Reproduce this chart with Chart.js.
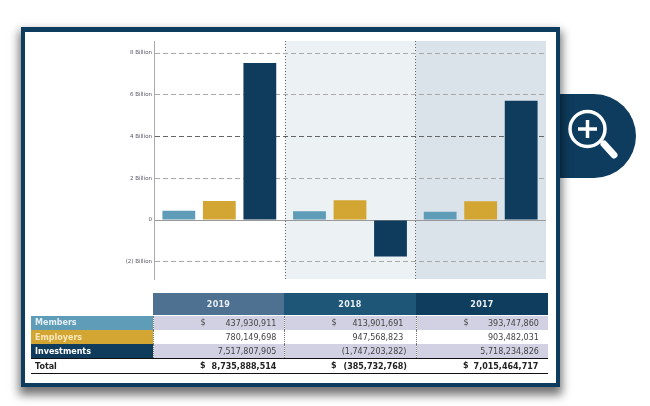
<!DOCTYPE html>
<html>
<head>
<meta charset="utf-8">
<script src="https://cdn.jsdelivr.net/npm/chart.js@4"></script>
<style>
html, body { margin: 0; padding: 0; background: #fff; }
#page { position: relative; width: 650px; height: 406px; overflow: hidden; font-family: "DejaVu Sans", sans-serif; }
#tab { position: absolute; left: 540px; top: 94px; width: 96px; height: 84px; background: #0e3c5e; border-radius: 0 42px 42px 0; }
#icon { position: absolute; left: 560px; top: 100px; }
#frame { position: absolute; left: 21px; top: 27px; width: 531px; height: 351px; background: #fff; border: 4px solid #0e3c5e; border-top-width: 5px; box-shadow: 0 6px 9px 2px rgba(0,0,0,.55); }
#chart { position: absolute; left: 0; top: 0; }
#tbl { position: absolute; left: 31px; top: 293px; width: 517px; border-collapse: collapse; table-layout: fixed; font-size: 8px; color: #444; }
#tbl td, #tbl th { padding: 0; white-space: nowrap; position: relative; }
#tbl th { height: 22px; color: #e8eef3; font-weight: bold; font-size: 8px; letter-spacing: .3px; border-bottom: 1px solid #fff; }
#tbl tr.row td { height: 14px; }
#tbl tr.row td.label { font-weight: bold; padding-left: 4px; }
#tbl tr.row td.num { text-align: right; border-left: 1px dotted #777; }
#tbl tr.shade td.num { background: #d1d1e3; }
#tbl tr.total td { height: 14px; font-weight: bold; color: #222; border-top: 1px solid #111; border-bottom: 1px solid #111; }
#tbl tr.total td.label { padding-left: 4px; }
#tbl tr.total td.num { text-align: right; }
.dollar { position: absolute; left: 47px; top: 2px; }
.pad { visibility: hidden; }
</style>
</head>
<body>
<div id="page">
  <div id="tab"></div>
  <svg id="icon" width="70" height="70" viewBox="0 0 70 70">
    <circle cx="27.5" cy="29" r="17.5" fill="none" stroke="#fff" stroke-width="3.5"/>
    <path d="M18 29H37M27.5 20V38" stroke="#fff" stroke-width="3.5"/>
    <path d="M44 44L54 55" stroke="#fff" stroke-width="7" stroke-linecap="round"/>
  </svg>
  <div id="frame"></div>
  <canvas id="chart" width="650" height="406"></canvas>
  <table id="tbl"></table>
</div>
<script>
var categories = ['2019', '2018', '2017'];
var members = [437930911, 413901691, 393747860];
var employers = [780149698, 947568823, 903482031];
var investments = [7517807905, -1747203282, 5718234826];
var totals = [8735888514, -385732768, 7015464717];

// the 2019 employers bar is drawn taller than its table figure in the picture
var employersBars = [905000000, 947568823, 903482031];

var tickValues = [-2000000000, 0, 2000000000, 4000000000, 6000000000, 8000000000];
var tickLabels = ['(2) Billion', '0', '2 Billion', '4 Billion', '6 Billion', '8 Billion'];

var bandColors = ['rgba(0,0,0,0)', '#ecf1f4', '#dbe3ea'];
var headColors = ['#4e7091', '#1e5678', '#0e3d5e'];

// ***** shaded column behind each year, dotted line between them *****
var bands = {
    id: 'bands',
    beforeDraw: function (chart) {
        var c = chart.ctx, area = chart.chartArea, x = chart.scales.x;
        var w = x.getPixelForValue(1) - x.getPixelForValue(0);
        categories.forEach(function (name, i) {
            var left = x.getPixelForValue(i) - w / 2;
            c.fillStyle = bandColors[i];
            c.fillRect(left, area.top, w, area.bottom - area.top);
        });
        categories.forEach(function (name, i) {
            if (i === 0) return;
            var left = x.getPixelForValue(i) - w / 2;
            c.save();
            c.strokeStyle = '#666';
            c.lineWidth = 1;
            c.setLineDash([1, 2]);
            c.beginPath();
            c.moveTo(Math.round(left) + .5, area.top);
            c.lineTo(Math.round(left) + .5, area.bottom);
            c.stroke();
            c.restore();
        });
    }
};

new Chart(document.getElementById('chart'), {
    type: 'bar',
    plugins: [bands],
    data: {
        labels: categories,
        datasets: [
            { label: 'Members', data: members, backgroundColor: '#5f9cb8' },
            { label: 'Employers', data: employersBars, backgroundColor: '#d3a533' },
            { label: 'Investments', data: investments, backgroundColor: '#0f3b5c' }
        ]
    },
    options: {
        responsive: false,
        animation: false,
        layout: { padding: { left: 0, top: 41, right: 104, bottom: 127 } },
        categoryPercentage: 0.93,
        barPercentage: 0.81,
        plugins: { legend: { display: false }, tooltip: { enabled: false } },
        scales: {
            x: { display: false },
            y: {
                min: -2826000000,
                max: 8575000000,
                afterFit: function (scale) { scale.width = 154; },
                afterBuildTicks: function (scale) {
                    scale.ticks = tickValues.map(function (v) { return { value: v }; });
                },
                ticks: {
                    padding: 2,
                    font: { family: 'DejaVu Sans', size: 5.5 },
                    color: '#556',
                    callback: function (v) { return tickLabels[tickValues.indexOf(v)]; }
                },
                border: {
                    display: true,
                    color: '#aaa',
                    width: 1,
                    dash: function (ctx) { return ctx.tick && ctx.tick.value === 0 ? [] : [5, 3]; }
                },
                grid: {
                    drawTicks: false,
                    color: function (ctx) {
                        if (ctx.tick.value === 4000000000) return '#666';
                        return ctx.tick.value === 0 ? '#999' : '#aaa';
                    }
                }
            }
        }
    }
});

// ***** table under the chart *****
function money(v) {
    var s = Math.abs(v).toString().replace(/\B(?=(\d{3})+$)/g, ',');
    return v < 0 ? '(' + s + ')' : s + '<span class="pad">)</span>';
}

var rowPad = [4, 9, 6];
var html = '<colgroup><col style="width:122px"><col style="width:131px"><col style="width:132px"><col style="width:132px"></colgroup>';
html += '<tr><td style="height:22px"></td>';
categories.forEach(function (name, i) {
    html += '<th style="background:' + headColors[i] + '">' + name + '</th>';
});
html += '</tr>';

function row(name, values, bg, fg, shade, dollar) {
    html += '<tr class="row' + (shade ? ' shade' : '') + '"><td class="label" style="background:' + bg + ';color:' + fg + '">' + name + '</td>';
    values.forEach(function (v, i) {
        html += '<td class="num" style="padding-right:' + rowPad[i] + 'px">' + (dollar ? '<span class="dollar">$</span>' : '') + money(v) + '</td>';
    });
    html += '</tr>';
}
row('Members', members, '#5f9cb8', '#e3f0f6', true, true);
row('Employers', employers, '#d3a533', '#f7e8bd', false, false);
row('Investments', investments, '#0f3b5c', '#fff', true, false);

html += '<tr class="total"><td class="label">Total</td>';
totals.forEach(function (v, i) {
    html += '<td class="num" style="padding-right:' + rowPad[i] + 'px"><span class="dollar">$</span>' + money(v) + '</td>';
});
html += '</tr>';
document.getElementById('tbl').innerHTML = html;
</script>
</body>
</html>
